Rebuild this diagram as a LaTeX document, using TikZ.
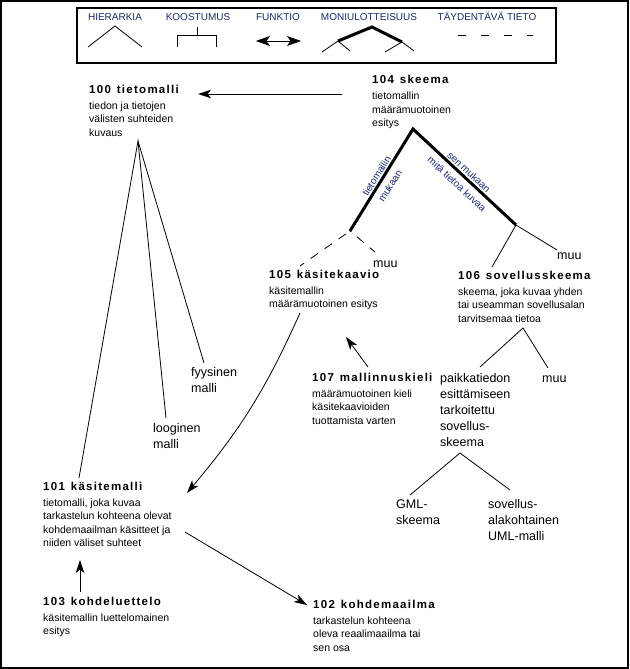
\documentclass[tikz,border=0pt]{standalone}
\usepackage{fontspec}
\setmainfont{Liberation Sans}
\newfontfamily\ttlfont[LetterSpace=11]{Liberation Sans Bold}
\usetikzlibrary{arrows.meta}
\definecolor{navy}{RGB}{30,40,110}
\newcommand{\ttl}[2]{{\fontsize{11.5pt}{13pt}\ttlfont #1\hspace{6pt}#2}}
\newcommand{\bodyf}{\fontsize{10.5pt}{13.5pt}\selectfont}
\newcommand{\lblf}{\fontsize{12.5pt}{16pt}\selectfont}
\newcommand{\tl}[1]{\begin{tabular}[t]{@{}l@{}}#1\end{tabular}}
\begin{document}
\begin{tikzpicture}[x=1pt,y=-1pt,
  cpt/.style={anchor=base west,inner sep=0pt,font=\bodyf},
  lbl/.style={anchor=base west,inner sep=0pt,font=\lblf},
  leg/.style={anchor=base,inner sep=0pt,text=navy,font=\fontsize{10pt}{12pt}\selectfont},
  rot/.style={inner sep=0pt,text=navy,font=\fontsize{10pt}{12pt}\selectfont},
  hier/.style={line width=0.8pt},
  thickh/.style={line width=3pt,line join=miter},
  suppl/.style={line width=0.8pt,dash pattern=on 9pt off 8pt},
  arr/.style={line width=0.8pt,-{Stealth[length=13pt,width=8.5pt,inset=3.5pt]}}]
\useasboundingbox (0,0) rectangle (629,669);
\draw[line width=2pt] (1,1) rectangle (628,668);
% legend
\draw[line width=1.2pt] (77,8) rectangle (556,63);
\node[leg] (lh) at (115,20.7) {HIERARKIA};
\node[leg] (lk) at (198,20.7) {KOOSTUMUS};
\node[leg] (lf) at (278,20.7) {FUNKTIO};
\node[leg] (lm) at (369,20.7) {MONIULOTTEISUUS};
\node[leg] (lt) at (487,20.7) {TÄYDENTÄVÄ TIETO};
\draw[hier] (88,47) -- (115,26) -- (142,47);
\draw[hier] (197,27) -- (197,35);
\draw[hier] (177,47) -- (177,35) -- (216,35) -- (216,47);
\draw[line width=0.8pt,{Stealth[length=14pt,width=10pt,inset=3.5pt]}-{Stealth[length=14pt,width=10pt,inset=3.5pt]}] (256,41) -- (301,41);
\draw[thickh] (338,41) -- (372,27) -- (402,42);
\draw[hier] (322,52) -- (338,41) -- (350,51);
\draw[hier] (385,52) -- (402,42) -- (414,51);
\draw[line width=0.8pt,dash pattern=on 8pt off 15pt] (458,35) -- (533,35);
% concept nodes
\node[cpt] (n100) at (89,93) {\tl{\ttl{100}{tietomalli}\\[2.5pt] tiedon ja tietojen\\ välisten suhteiden\\ kuvaus}};
\node[cpt] (n104) at (372,84) {\tl{\ttl{104}{skeema}\\[2.5pt] tietomallin\\ määrämuotoinen\\ esitys}};
\node[cpt] (n105) at (269,278) {\tl{\ttl{105}{käsitekaavio}\\[2.5pt] käsitemallin\\ määrämuotoinen esitys}};
\node[cpt] (n106) at (458,279) {\tl{\ttl{106}{sovellusskeema}\\[2.5pt] skeema, joka kuvaa yhden\\ tai useamman sovellusalan\\ tarvitsemaa tietoa}};
\node[cpt] (n107) at (312,381) {\tl{\ttl{107}{mallinnuskieli}\\[2.5pt] määrämuotoinen kieli\\ käsitekaavioiden\\ tuottamista varten}};
\node[cpt] (n101) at (43,490) {\tl{\ttl{101}{käsitemalli}\\[2.5pt] tietomalli, joka kuvaa\\ tarkastelun kohteena olevat\\ kohdemaailman käsitteet ja\\ niiden väliset suhteet}};
\node[cpt] (n103) at (43,605) {\tl{\ttl{103}{kohdeluettelo}\\[2.5pt] käsitemallin luettelomainen\\ esitys}};
\node[cpt] (n102) at (313,608) {\tl{\ttl{102}{kohdemaailma}\\[2.5pt] tarkastelun kohteena\\ oleva reaalimaailma tai\\ sen osa}};
% labels
\node[lbl] (muu1) at (373,267) {muu};
\node[lbl] (muu2) at (557,259) {muu};
\node[lbl] (muu3) at (542,382) {muu};
\node[lbl] (fyys) at (191,376) {\tl{fyysinen\\ malli}};
\node[lbl] (loog) at (153,432) {\tl{looginen\\ malli}};
\node[lbl] (paik) at (440,382) {\tl{paikkatiedon\\ esittämiseen\\ tarkoitettu\\ sovellus-\\ skeema}};
\node[lbl] (gml) at (396,508) {\tl{GML-\\ skeema}};
\node[lbl] (uml) at (488,508) {\tl{sovellus-\\ alakohtainen\\ UML-malli}};
% hierarchy of 100
\coordinate (h100) at (138,141);
\coordinate (e101) at (79,478);
\coordinate (eloog) at (166,418);
\coordinate (efyys) at (204,363);
\draw[hier] (e101) -- (h100) -- (eloog);
\draw[hier] (h100) -- (efyys);
% multidimensional hierarchy of 104
\coordinate (h104) at (413,129);
\coordinate (jl) at (350,231);
\coordinate (jr) at (516,225);
\draw[thickh] (jl) -- (h104) -- (jr);
\node[rot,rotate=58] (r1a) at (376.5,176) {tietomallin};
\node[rot,rotate=58] (r1b) at (390,186) {mukaan};
\node[rot,rotate=-43] (r2a) at (469,172) {sen mukaan};
\node[rot,rotate=-43] (r2b) at (457,184) {mitä tietoa kuvaa};
\coordinate (e105) at (300,266);
\coordinate (emuu1) at (375,252);
\draw[suppl,dash phase=12pt] (jl) -- (e105);
\draw[suppl,dash phase=8pt] (jl) -- (emuu1);
\coordinate (e106) at (492,267);
\coordinate (emuu2) at (557,250);
\draw[hier] (e106) -- (jr) -- (emuu2);
% hierarchy of 106
\coordinate (h106) at (523,328);
\coordinate (epaik) at (480,367);
\coordinate (emuu3) at (548,368);
\draw[hier] (epaik) -- (h106) -- (emuu3);
% hierarchy of paikkatiedon
\coordinate (hpk) at (460,453);
\coordinate (egml) at (410,495);
\coordinate (euml) at (510,490);
\draw[hier] (egml) -- (hpk) -- (euml);
% arrows
\coordinate (a1s) at (342,94);
\coordinate (a1e) at (198,94);
\draw[arr] (a1s) -- (a1e);
\coordinate (a2s) at (368,367);
\coordinate (a2e) at (346,337);
\draw[arr] (a2s) -- (a2e);
\coordinate (a3s) at (300,313);
\coordinate (a3e) at (187,493);
\draw[arr] (a3s) to[bend left=8] (a3e);
\coordinate (a4s) at (80,592);
\coordinate (a4e) at (80,560);
\draw[arr] (a4s) -- (a4e);
\coordinate (a5s) at (185,532);
\coordinate (a5e) at (307,605);
\draw[arr] (a5s) -- (a5e);
\end{tikzpicture}
\end{document}
